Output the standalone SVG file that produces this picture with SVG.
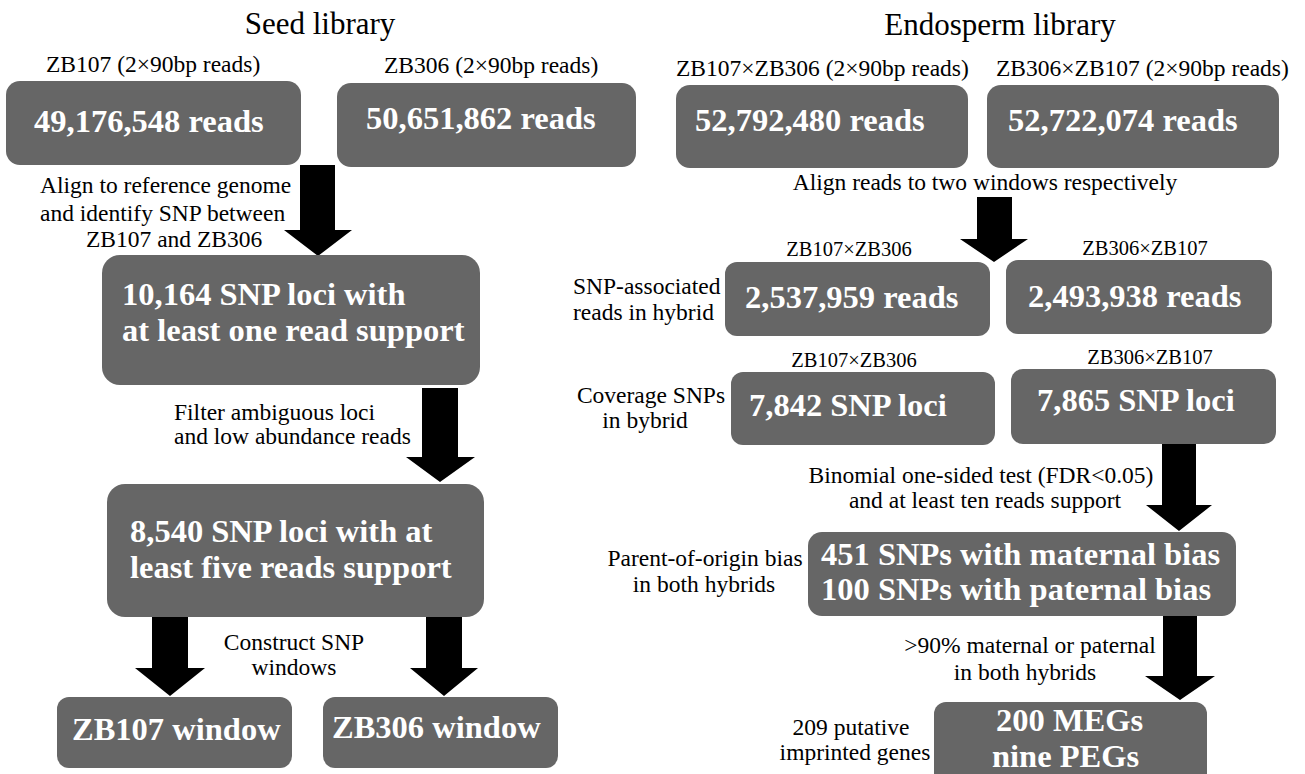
<svg xmlns="http://www.w3.org/2000/svg" width="1305" height="774" viewBox="0 0 1305 774">
<style>
text{font-family:"Liberation Serif","Times New Roman",serif;fill:#000}
.title{font-size:31px;text-anchor:middle}
.lbl{font-size:23.5px}
.sm{font-size:20.5px;text-anchor:middle}
.c{text-anchor:middle}
.box{fill:#666666}
.bt{font-size:32.5px;font-weight:bold;fill:#fff}
.arr{fill:#000}
</style>
<rect width="1305" height="774" fill="#fff"/>
<g id="titles">
<text class="title" x="320" y="34">Seed library</text>
<text class="title" x="1000" y="35">Endosperm library</text>
</g>
<g id="labels">
<text class="lbl" x="46" y="72">ZB107 (2×90bp reads)</text>
<text class="lbl" x="384" y="73">ZB306 (2×90bp reads)</text>
<text class="lbl" x="676" y="76">ZB107×ZB306 (2×90bp reads)</text>
<text class="lbl" x="996" y="76">ZB306×ZB107 (2×90bp reads)</text>
<text class="lbl" x="40" y="193">Align to reference genome</text>
<text class="lbl" x="40" y="221">and identify SNP between</text>
<text class="lbl" x="86" y="247">ZB107 and ZB306</text>
<text class="lbl" x="174" y="420">Filter ambiguous loci</text>
<text class="lbl" x="174" y="444">and low abundance reads</text>
<text class="lbl c" x="294" y="650">Construct SNP</text>
<text class="lbl c" x="294" y="675">windows</text>
<text class="lbl c" x="985" y="190">Align reads to two windows respectively</text>
<text class="sm" x="849" y="256">ZB107×ZB306</text>
<text class="sm" x="1145" y="255">ZB306×ZB107</text>
<text class="lbl" x="573" y="294">SNP-associated</text>
<text class="lbl" x="573" y="320">reads in hybrid</text>
<text class="sm" x="854" y="367">ZB107×ZB306</text>
<text class="sm" x="1150" y="364">ZB306×ZB107</text>
<text class="lbl c" x="651" y="403">Coverage SNPs</text>
<text class="lbl c" x="645" y="428">in bybrid</text>
<text class="lbl c" x="981" y="483">Binomial one-sided test (FDR&lt;0.05)</text>
<text class="lbl c" x="985" y="508">and at least ten reads support</text>
<text class="lbl c" x="705" y="566">Parent-of-origin bias</text>
<text class="lbl c" x="704" y="592">in both hybrids</text>
<text class="lbl c" x="1030" y="653">&gt;90% maternal or paternal</text>
<text class="lbl c" x="1025" y="680">in both hybrids</text>
<text class="lbl c" x="851" y="735">209 putative</text>
<text class="lbl c" x="855" y="760">imprinted genes</text>
</g>
<g id="connectors">
<polygon class="arr" points="300,165 335,165 335,230 352,230 318,256 284,230 300,230"/>
<polygon class="arr" points="422,388 458,388 458,457 475,457 440,482 406,457 422,457"/>
<polygon class="arr" points="152,617 188,617 188,668 205,668 170,696 135,668 152,668"/>
<polygon class="arr" points="426,617 462,617 462,668 478,668 444,696 410,668 426,668"/>
<polygon class="arr" points="977,197 1012,197 1012,239 1028,239 994,262 960,239 977,239"/>
<polygon class="arr" points="1162,444 1196,444 1196,505 1212,505 1179,531 1146,505 1162,505"/>
<polygon class="arr" points="1163,616 1197,616 1197,676 1215,676 1180,700 1145,676 1163,676"/>
</g>
<g id="n1"><rect class="box" x="6" y="81" width="295" height="84" rx="14"/><text class="bt" x="34" y="132">49,176,548 reads</text></g>
<g id="n2"><rect class="box" x="337" y="83" width="299" height="84" rx="14"/><text class="bt" x="366" y="129">50,651,862 reads</text></g>
<g id="n3"><rect class="box" x="676" y="85" width="292" height="83" rx="14"/><text class="bt" x="695" y="131">52,792,480 reads</text></g>
<g id="n4"><rect class="box" x="987" y="85" width="292" height="83" rx="14"/><text class="bt" x="1008" y="131">52,722,074 reads</text></g>
<g id="n5"><rect class="box" x="102" y="255" width="378" height="130" rx="18"/><text class="bt" x="122" y="305">10,164 SNP loci with</text><text class="bt" x="122" y="341">at least one read support</text></g>
<g id="n6"><rect class="box" x="107" y="484" width="377" height="133" rx="18"/><text class="bt" x="130" y="542">8,540 SNP loci with at</text><text class="bt" x="130" y="578">least five reads support</text></g>
<g id="n7"><rect class="box" x="57" y="697" width="235" height="71" rx="12"/><text class="bt" x="72" y="740">ZB107 window</text></g>
<g id="n8"><rect class="box" x="323" y="697" width="235" height="71" rx="12"/><text class="bt" x="332" y="738">ZB306 window</text></g>
<g id="n9"><rect class="box" x="725" y="262" width="265" height="74" rx="12"/><text class="bt" x="745" y="308">2,537,959 reads</text></g>
<g id="n10"><rect class="box" x="1006" y="260" width="266" height="74" rx="12"/><text class="bt" x="1028" y="307">2,493,938 reads</text></g>
<g id="n11"><rect class="box" x="731" y="372" width="264" height="73" rx="12"/><text class="bt" x="749" y="416">7,842 SNP loci</text></g>
<g id="n12"><rect class="box" x="1011" y="369" width="265" height="75" rx="12"/><text class="bt" x="1037" y="411">7,865 SNP loci</text></g>
<g id="n13"><rect class="box" x="808" y="532" width="428" height="84" rx="14"/><text class="bt" x="821" y="565">451 SNPs with maternal bias</text><text class="bt" x="821" y="600">100 SNPs with paternal bias</text></g>
<g id="n14"><rect class="box" x="934" y="702" width="273" height="90" rx="12"/><text class="bt" x="996" y="731">200 MEGs</text><text class="bt" x="992" y="767">nine PEGs</text></g>
</svg>
